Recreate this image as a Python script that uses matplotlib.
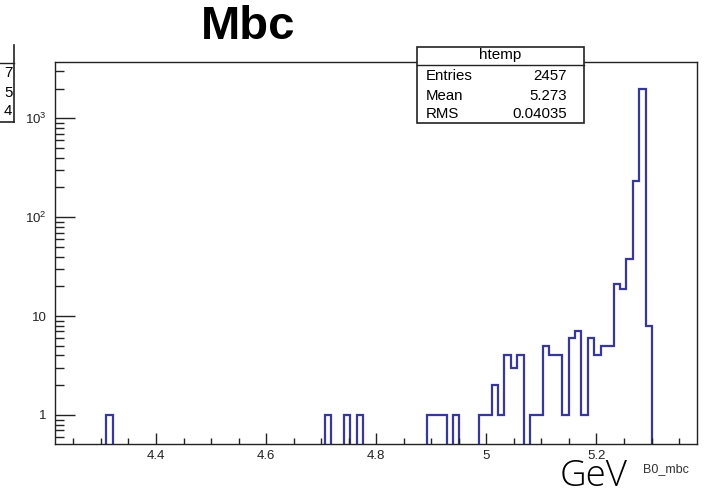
import numpy as np
import matplotlib
matplotlib.use("Agg")
import matplotlib.pyplot as plt
from matplotlib.ticker import FixedLocator, MultipleLocator, LogLocator, NullFormatter, FixedFormatter
from matplotlib.patches import Rectangle
from matplotlib.lines import Line2D

# ---------------- data ----------------
x_lo, x_hi, n_bins = 4.2166, 5.3826, 100
nonzero_bins = [8, 42, 45, 47, 58, 59, 60, 62, 66, 67, 68, 69, 70, 71, 72,
                74, 75, 76, 77, 78, 79, 80, 81, 82, 83, 84, 85, 86, 87, 88,
                89, 90, 91, 92]
nonzero_counts = [1, 1, 1, 1, 1, 1, 1, 1, 1, 1, 2, 1, 4, 3, 4,
                  1, 1, 5, 4, 4, 1, 6, 7, 1, 6, 4, 5, 5, 21, 19,
                  38, 231, 1980, 8]
x_ticks = [4.4, 4.6, 4.8, 5.0, 5.2]
x_tick_labels = ["4.4", "4.6", "4.8", "5", "5.2"]
y_ticks = [1, 10, 100, 1000]
y_tick_labels = ["1", "10", "$10^{2}$", "$10^{3}$"]
title = "Mbc"
stat_name = "htemp"
stat_rows = [("Entries", "2457"), ("Mean", "5.273"), ("RMS", "0.04035")]
x_unit = "GeV"
x_var = "B0_mbc"
cut_digits = ["7", "5", "4"]

counts = np.zeros(n_bins)
counts[nonzero_bins] = nonzero_counts
edges = np.linspace(x_lo, x_hi, n_bins + 1)

# ---------------- style ----------------
plt.rcParams['font.family'] = ['Liberation Sans', 'DejaVu Sans']
plt.rcParams['mathtext.fontset'] = 'custom'
plt.rcParams['mathtext.rm'] = 'Liberation Sans'
plt.rcParams['mathtext.it'] = 'Liberation Sans:italic'
plt.rcParams['mathtext.bf'] = 'Liberation Sans:bold'

W, H = 720, 496
fig = plt.figure(figsize=(7.2, 4.96), dpi=100)
fig.patch.set_facecolor('white')

def fx(px):
    return px / W

def fy(py):
    return 1 - py / H

ax_l, ax_r, ax_t, ax_b = 55, 697, 62, 444
ax = fig.add_axes([fx(ax_l), fy(ax_b), fx(ax_r) - fx(ax_l), fy(ax_t) - fy(ax_b)])

draw_vals = np.where(counts > 0, counts, 1e-3)
ax.stairs(draw_vals, edges, color='#3535b0', linewidth=1.6, baseline=None)

ax.set_yscale('log')
ax.set_xlim(x_lo, x_hi)
ax.set_ylim(0.509, 3708)

for s in ax.spines.values():
    s.set_linewidth(1.0)
    s.set_color('#222222')

ax.xaxis.set_major_locator(FixedLocator(x_ticks))
ax.xaxis.set_major_formatter(FixedFormatter(x_tick_labels))
ax.xaxis.set_minor_locator(MultipleLocator(0.05))
ax.yaxis.set_major_locator(FixedLocator(y_ticks))
ax.yaxis.set_major_formatter(FixedFormatter(y_tick_labels))
ax.yaxis.set_minor_locator(LogLocator(base=10, subs=np.arange(2, 10), numticks=20))
ax.yaxis.set_minor_formatter(NullFormatter())

ax.tick_params(axis='x', which='major', direction='in', length=8, width=1.0,
               color='#222222', labelsize=9.5, pad=4, top=False)
ax.tick_params(axis='x', which='minor', direction='in', length=4, width=1.0,
               color='#222222', top=False)
ax.tick_params(axis='y', which='major', direction='in', length=14.4, width=1.0,
               color='#222222', labelsize=9.5, pad=6, right=False)
ax.tick_params(axis='y', which='minor', direction='in', length=6.7, width=1.0,
               color='#222222', right=False)
for lab in ax.get_xticklabels() + ax.get_yticklabels():
    lab.set_color('#222222')

# title
fig.text(fx(248), fy(27), title, ha='center', va='center', fontsize=34,
         fontweight='bold', color='black')

# stat box
bl, br, bt, bh, bb = 417, 584, 47, 65, 123
fig.patches.append(Rectangle((fx(bl), fy(bb)), fx(br) - fx(bl), fy(bt) - fy(bb),
                             transform=fig.transFigure, facecolor='white',
                             edgecolor='#222222', linewidth=1.2, zorder=10))
fig.lines.append(Line2D([fx(bl), fx(br)], [fy(bh), fy(bh)], transform=fig.transFigure,
                        color='#222222', linewidth=1.0, zorder=11))
fig.text(fx((bl + br) / 2), fy(55.5), stat_name, ha='center', va='center',
         fontsize=11, zorder=12)
row_y = [76.5, 95.5, 114]
for (k, v), yy in zip(stat_rows, row_y):
    fig.text(fx(426), fy(yy), k, ha='left', va='center', fontsize=10.8, zorder=12)
    fig.text(fx(567), fy(yy), v, ha='right', va='center', fontsize=10.8, zorder=12)

# partially visible box at far left
fig.lines.append(Line2D([fx(14), fx(14)], [fy(45), fy(121.7)], transform=fig.transFigure,
                        color='#222222', linewidth=1.2))
fig.lines.append(Line2D([fx(0), fx(14)], [fy(63.3), fy(63.3)], transform=fig.transFigure,
                        color='#222222', linewidth=1.0))
fig.lines.append(Line2D([fx(0), fx(14)], [fy(121.7), fy(121.7)], transform=fig.transFigure,
                        color='#222222', linewidth=1.2))
for d, yy in zip(cut_digits, [73, 93, 111]):
    fig.text(fx(12.5), fy(yy), d, ha='right', va='center', fontsize=10.8)

# axis unit and variable name
fig.text(fx(594), fy(477), x_unit, ha='center', va='center', fontsize=26.5,
         family=['Open Sans', 'DejaVu Sans'], fontweight='light', color='black')
fig.text(fx(666), fy(469), x_var, ha='center', va='center', fontsize=9, color='#333333')

fig.savefig('out.png', dpi=100, facecolor='white')
